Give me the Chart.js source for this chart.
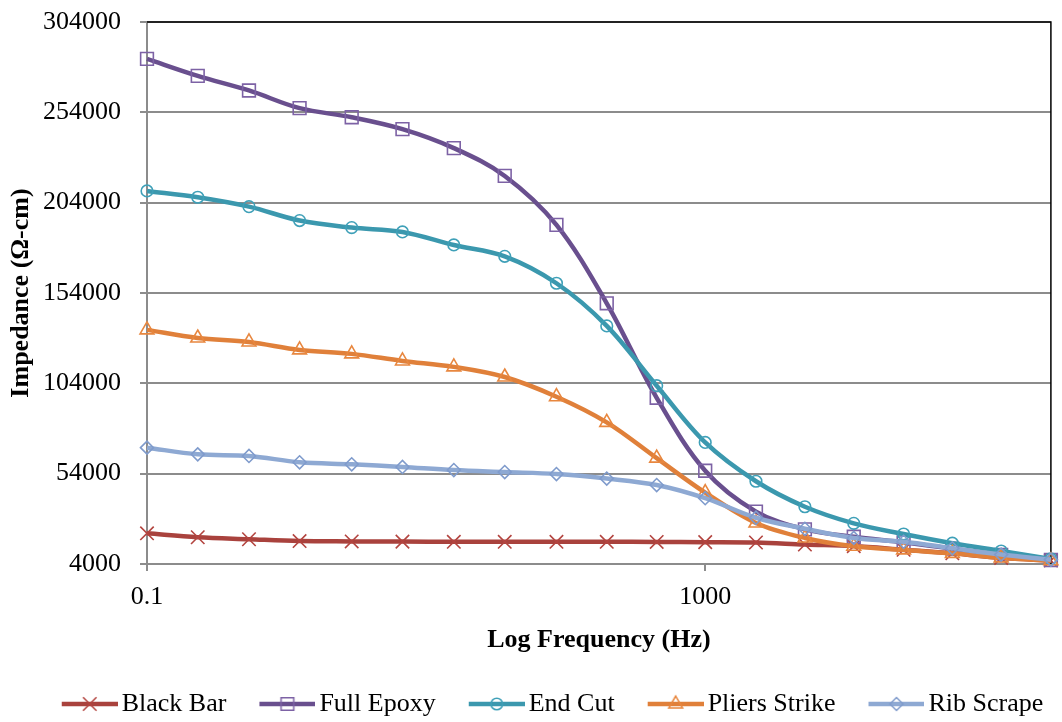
<!DOCTYPE html>
<html>
<head>
<meta charset="utf-8">
<title>Impedance vs Log Frequency</title>
<script src="https://cdn.jsdelivr.net/npm/chart.js@4.4.1/dist/chart.umd.min.js"></script>
<style>
    html, body { margin: 0; padding: 0; background: #fff; }
</style>
</head>
<body>
<canvas id="impedanceChart" width="1062" height="722"></canvas>
<script>
// Sweep frequencies (Hz)
const frequencies = [0.1, 0.231, 0.538, 1.24, 2.93, 6.77, 15.8, 36.6, 85.9, 197, 449, 1000,
    2310, 5180, 11600, 26400, 59000, 132000, 300000];

// Impedance (ohm-cm) per specimen
const blackBar = [21000, 18800, 17700, 16700, 16500, 16400, 16300, 16300, 16300, 16300, 16200, 16100,
    15900, 14800, 13900, 11900, 9900, 7400, 5900];
const fullEpoxy = [283600, 274200, 266100, 256300, 251300, 244700, 234200, 218800, 191700, 148300, 96000, 55600,
    33000, 23200, 19100, 16000, 12500, 9000, 6200];
const endCut = [210500, 207000, 201800, 194100, 190200, 187800, 180600, 174300, 159400, 135800, 102700, 71300,
    49800, 35700, 26500, 20600, 15500, 11200, 6800];
const pliersStrike = [133600, 129100, 126900, 122500, 120300, 116400, 113100, 107500, 96600, 82400, 62600, 43500,
    26700, 18400, 13800, 11800, 9900, 7400, 5800];
const ribScrape = [68400, 64700, 63800, 60300, 59200, 57700, 56000, 54900, 53800, 51300, 47700, 40400,
    29600, 23500, 18400, 16300, 12700, 9200, 6400];

const xTicks = [0.1, 1000];
const yTicks = [4000, 54000, 104000, 154000, 204000, 254000, 304000];

Chart.defaults.font.family = "'Liberation Serif', 'Times New Roman', serif";
Chart.defaults.color = '#000';

// line + marker sample used as the legend symbol
function legendSymbol(lineColor, markerColor, style, radius) {
    const c = document.createElement('canvas');
    c.width = 68;
    c.height = 24;
    const ctx = c.getContext('2d');
    ctx.strokeStyle = lineColor;
    ctx.lineWidth = 4.5;
    ctx.beginPath();
    ctx.moveTo(12, 12);
    ctx.lineTo(68, 12);
    ctx.stroke();
    ctx.strokeStyle = markerColor;
    ctx.fillStyle = 'rgba(255,255,255,0)';
    ctx.lineWidth = 1.5;
    Chart.helpers.drawPoint(ctx, { pointStyle: style, radius: radius, rotation: 0, borderWidth: 1.5 }, 40, 12);
    return c;
}

function series(label, values, lineColor, markerColor, style, radius, order) {
    return {
        label: label,
        data: values.map((v, i) => ({ x: frequencies[i], y: v })),
        borderColor: lineColor,
        backgroundColor: lineColor,
        borderWidth: 4.5,
        pointStyle: style,
        pointRadius: radius,
        pointBorderColor: markerColor,
        pointBackgroundColor: 'rgba(255,255,255,0)',
        pointBorderWidth: 1.6,
        tension: 0.35,
        order: order,
        clip: false,
        symbol: legendSymbol(lineColor, markerColor, style, radius)
    };
}

// black frame on the top and right of the plot
const plotFrame = {
    id: 'plotFrame',
    beforeDatasetsDraw(chart) {
        const { ctx, chartArea: a } = chart;
        ctx.save();
        ctx.strokeStyle = '#000';
        ctx.lineWidth = 1.5;
        ctx.beginPath();
        ctx.moveTo(a.left, a.top);
        ctx.lineTo(a.right, a.top);
        ctx.lineTo(a.right, a.bottom);
        ctx.stroke();
        ctx.restore();
    }
};

// nudge the legend row to the right, like the original
const legendNudge = {
    id: 'legendNudge',
    afterLayout(chart) {
        chart.legend.left += 24;
        chart.legend.right += 24;
    }
};

const ctx = document.getElementById('impedanceChart').getContext('2d');
new Chart(ctx, {
    type: 'line',
    data: {
        datasets: [
            series('Black Bar', blackBar, '#A9423D', '#B3443F', 'crossRot', 9.5, 5),
            series('Full Epoxy', fullEpoxy, '#694F8E', '#7D62A5', 'rect', 9, 4),
            series('End Cut', endCut, '#3B98AE', '#3FA0B8', 'circle', 5.8, 3),
            series('Pliers Strike', pliersStrike, '#E0803A', '#E8873F', 'triangle', 8, 2),
            series('Rib Scrape', ribScrape, '#8EA9D3', '#7F9BCC', 'rectRot', 6.5, 1)
        ]
    },
    options: {
        responsive: false,
        animation: false,
        devicePixelRatio: 1,
        layout: {
            padding: { top: 22, right: 8, bottom: -5, left: 0 }
        },
        plugins: {
            legend: {
                position: 'bottom',
                labels: {
                    usePointStyle: true,
                    pointStyleWidth: 50,
                    padding: 30,
                    color: '#000',
                    font: { size: 26 },
                    generateLabels(chart) {
                        const items = Chart.defaults.plugins.legend.labels.generateLabels(chart);
                        items.forEach(item => {
                            item.pointStyle = chart.data.datasets[item.datasetIndex].symbol;
                        });
                        return items.sort((a, b) => a.datasetIndex - b.datasetIndex);
                    }
                }
            },
            tooltip: { enabled: false }
        },
        scales: {
            x: {
                type: 'logarithmic',
                min: 0.1,
                max: 300000,
                afterBuildTicks: scale => { scale.ticks = xTicks.map(v => ({ value: v })); },
                afterFit: scale => { scale.height = 97; },
                ticks: {
                    callback: v => String(v),
                    autoSkip: false,
                    maxRotation: 0,
                    padding: 11,
                    color: '#000',
                    font: { size: 26 }
                },
                grid: {
                    drawOnChartArea: false,
                    drawTicks: true,
                    tickLength: 7,
                    color: '#8c8c8c',
                    lineWidth: 2
                },
                border: { color: '#8c8c8c', width: 2 },
                title: {
                    display: true,
                    text: 'Log Frequency (Hz)',
                    color: '#000',
                    font: { size: 26, weight: 'bold' },
                    padding: { top: 0, bottom: 5 }
                }
            },
            y: {
                min: 4000,
                max: 304000,
                afterBuildTicks: scale => { scale.ticks = yTicks.map(v => ({ value: v })); },
                afterFit: scale => {
                    scale.width = 147;
                    scale.paddingTop = 16;
                    scale.paddingBottom = 16;
                },
                ticks: {
                    callback: v => String(v),
                    padding: 19,
                    color: '#000',
                    font: { size: 26 }
                },
                grid: {
                    color: '#8c8c8c',
                    lineWidth: 2,
                    tickLength: 7
                },
                border: { color: '#8c8c8c', width: 2 },
                title: {
                    display: true,
                    text: 'Impedance (Ω-cm)',
                    color: '#000',
                    font: { size: 26, weight: 'bold' },
                    padding: { top: 6, bottom: 0 }
                }
            }
        }
    },
    plugins: [plotFrame, legendNudge]
});
</script>
</body>
</html>
